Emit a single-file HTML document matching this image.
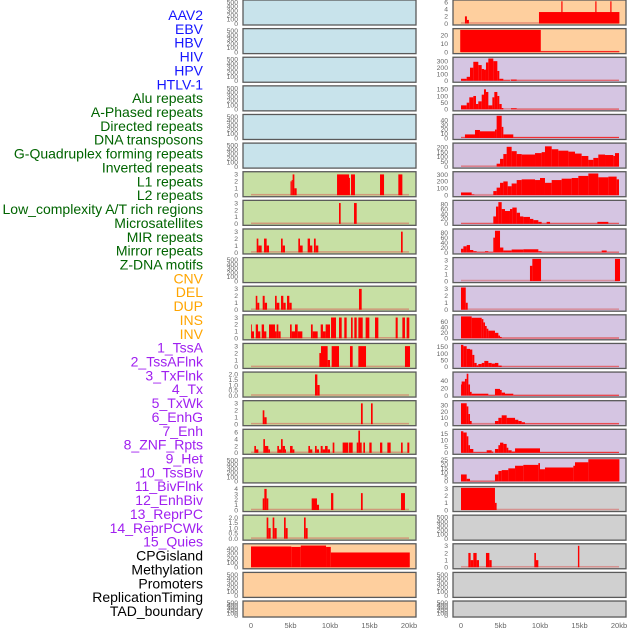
<!DOCTYPE html>
<html><head><meta charset="utf-8">
<style>
html,body{margin:0;padding:0;background:#fff;}
#chart{position:absolute;left:0;top:0;width:630px;height:630px;}
text{font-family:"Liberation Sans",sans-serif;}
</style></head>
<body>
<svg id="chart" width="630" height="630" xmlns="http://www.w3.org/2000/svg"></svg>
<script>
const labelNames = ["AAV2","EBV","HBV","HIV","HPV","HTLV-1","Alu repeats","A-Phased repeats","Directed repeats","DNA transposons","G-Quadruplex forming repeats","Inverted repeats","L1 repeats","L2 repeats","Low_complexity A/T rich regions","Microsatellites","MIR repeats","Mirror repeats","Z-DNA motifs","CNV","DEL","DUP","INS","INV","1_TssA","2_TssAFlnk","3_TxFlnk","4_Tx","5_TxWk","6_EnhG","7_Enh","8_ZNF_Rpts","9_Het","10_TssBiv","11_BivFlnk","12_EnhBiv","13_ReprPC","14_ReprPCWk","15_Quies","CPGisland","Methylation","Promoters","ReplicationTiming","TAD_boundary"];
const labelGroups = [6,13,5,15,5];
const xTicks = [0,5,10,15,20];
const xTickLabels = ["0","5kb","10kb","15kb","20kb"];

const mid6=[[5.0,5.15,2],[5.15,5.27,2.2],[5.27,5.49,3],[5.49,5.78,1],[10.89,12.41,3],[12.41,12.53,2.5],[12.66,13.16,3],[16.33,16.84,3],[18.65,19.16,3]];
const mid7=[[11.14,11.35,3],[13.04,13.38,3]];
const mid8=[[0.72,0.93,2],[0.93,1.35,1],[1.65,1.98,2],[1.98,2.28,1],[3.8,4.01,2],[4.01,4.3,1],[5.99,6.2,2],[6.2,6.54,1],[7.17,7.47,2],[7.47,7.76,1],[7.97,8.19,2],[8.19,8.52,1],[18.99,19.2,3]];
const mid10=[[0.6,0.8,2],[0.8,1.05,1],[1.48,1.73,2],[1.73,2.03,1],[3.04,3.25,2],[3.25,3.59,1],[3.8,4.09,2],[4.09,4.39,1],[4.56,4.85,2],[4.85,5.15,1],[13.67,14.01,3]];
const mid11=[[0,0.08,2],[0.08,0.38,1],[0.6,0.89,2],[0.89,1.18,1],[1.35,1.65,2],[1.65,1.94,1],[2.28,3.04,2],[3.04,3.25,1],[3.25,3.46,2],[3.46,3.75,1],[4.94,5.15,2],[5.15,5.57,1],[5.57,5.91,2],[5.91,6.5,1],[7.59,7.81,2],[7.81,8.44,1],[8.82,9.11,2],[9.11,9.45,1],[9.45,10.0,2],[10.13,10.76,3],[11.14,11.48,3],[11.81,12.11,3],[12.66,12.87,3],[13.08,13.38,3],[13.59,14.14,3],[14.51,14.98,3],[15.7,16.12,3],[18.31,18.57,3],[19.16,19.49,3],[19.7,20.04,3]];
const mid12=[[8.65,8.86,2],[8.86,9.7,3],[9.7,10.0,1],[10.21,11.14,3],[12.53,12.87,3],[13.59,14.56,3],[19.49,20.13,3]];
const mid13=[[8.1,8.4,2],[8.4,8.69,1]];
const mid14=[[1.48,1.69,2],[1.69,1.98,1],[13.92,14.14,3],[15.19,15.4,3]];
const mid15=[[0.42,0.63,2],[0.63,0.93,1],[1.56,1.77,4],[1.77,2.19,2],[2.19,2.4,1],[3.33,3.54,2],[3.54,3.8,1],[3.8,4.01,4],[4.01,4.3,2],[4.3,4.43,1],[4.94,5.27,2],[5.27,5.49,1],[7.26,7.47,2],[7.47,7.76,1],[8.1,8.31,2],[8.31,8.61,1],[8.82,9.07,2],[9.07,9.37,1],[9.37,9.7,2],[9.7,10.0,1],[10.34,10.55,3],[11.6,12.32,3],[12.41,12.87,3],[13.38,13.59,3],[13.59,13.8,6.5],[13.8,14.01,3],[14.22,14.43,3],[14.98,15.27,3],[16.33,16.62,3],[17.26,17.68,3],[18.99,19.2,3],[19.79,20.04,3]];
const mid17=[[1.48,1.69,2.2],[1.69,1.98,4],[1.98,2.19,2.2],[7.68,8.35,2.2],[8.35,8.61,1],[10.13,10.42,3.2],[13.92,14.14,3.2],[18.99,19.49,3.2]];
const mid18=[[1.98,2.19,2],[2.19,2.49,1],[2.74,2.95,2],[2.95,3.25,1],[4.18,4.39,2],[4.39,4.64,1],[6.71,6.92,2],[6.92,7.17,1]];
const mid19=[[0,5.1,450],[5.1,6.3,440],[6.3,9.5,470],[9.5,10.1,440],[10.1,20.1,320]];

const r0=[[0.5,0.75,2],[0.75,1.0,1],[9.87,20.05,3.2],[12.7,12.85,6.2],[17.0,17.15,6.2],[18.9,19.05,6.2]];
const r1=[[-0.1,10.1,26],[10.1,20.05,1]];
const r2=[[0,0.72,30],[0.72,1.14,60],[1.14,1.56,200],[1.56,2.19,290],[2.19,2.62,240],[2.62,2.91,180],[2.91,3.16,170],[3.16,3.46,280],[3.46,4.09,340],[4.09,4.6,300],[4.6,4.85,150],[4.85,5.36,30],[5.36,6.2,8],[6.33,7.05,18],[7.05,20,4]];
const r3=[[0,0.72,30],[0.72,1.05,50],[1.05,1.56,90],[1.56,1.9,100],[1.9,2.19,40],[2.19,2.62,60],[2.62,2.91,110],[2.91,3.16,150],[3.16,3.46,130],[3.46,3.97,30],[3.97,4.22,90],[4.22,4.6,130],[4.6,4.85,100],[4.85,5.15,40],[5.15,5.36,10],[6.33,7.05,8],[7.05,20,3]];
const r4=[[0,0.5,1],[0.5,1.77,8],[1.77,2.4,18],[2.4,4.3,15],[4.3,4.51,19],[4.51,5.15,65],[5.15,5.36,25],[5.36,6.62,8],[6.62,20,1.5]];
const r5=[[0,4.51,1.5],[4.51,4.94,30],[4.94,5.36,80],[5.36,5.78,130],[5.78,6.41,205],[6.41,7.05,160],[7.05,7.68,130],[7.68,9.37,125],[9.37,10.21,140],[10.21,10.63,150],[10.63,11.48,210],[11.48,12.32,180],[12.32,13.59,165],[13.59,14.43,155],[14.43,15.27,135],[15.27,16.12,110],[16.12,16.75,70],[16.75,17.38,90],[17.38,18.23,125],[18.23,19.28,120],[19.28,19.49,110],[19.49,20,140]];
const r6=[[0,1.35,40],[1.35,1.69,10],[1.69,4.09,3],[4.09,4.51,60],[4.51,4.94,110],[4.94,5.36,180],[5.36,5.91,200],[5.91,6.41,130],[6.41,7.05,170],[7.05,7.68,220],[7.68,9.37,230],[9.37,10.0,220],[10.0,10.63,250],[10.63,11.48,180],[11.48,12.74,220],[12.74,14.01,240],[14.01,14.85,250],[14.85,16.12,280],[16.12,17.38,315],[17.38,18.65,260],[18.65,19.7,270],[19.7,20,230]];
const r7=[[0,4.09,1.5],[4.09,4.43,30],[4.43,4.73,70],[4.73,5.15,88],[5.15,5.57,60],[5.57,6.2,52],[6.2,6.5,60],[6.5,7.05,66],[7.05,7.47,45],[7.47,7.89,30],[7.89,8.73,28],[8.73,9.16,20],[9.16,9.79,15],[9.79,10.21,8],[10.21,10.84,1.5],[10.84,11.27,8],[11.27,17.26,1.5],[17.26,18.65,8],[18.65,20,1.5]];
const r8=[[0,0.3,15],[0.3,0.72,25],[0.72,1.14,30],[1.14,1.56,10],[1.56,1.98,5],[1.98,3.04,2],[3.04,3.46,5],[3.46,4.09,2],[4.09,4.3,60],[4.3,4.94,88],[4.94,5.36,20],[5.36,6.41,8],[6.41,7.89,12],[7.89,9.79,13],[9.79,10.21,5],[10.21,17.81,1.5],[17.81,18.44,8],[18.44,20,1.5]];
const r9=[[8.73,9.03,2.2],[9.03,10.13,3.2],[19.49,20.13,3.2]];
const r10=[[0,0.6,3.2],[0.6,0.85,1]];
const r11=[[0,1.35,80],[1.35,2.62,75],[2.62,2.83,70],[2.83,3.04,58],[3.04,3.25,45],[3.25,3.46,35],[3.46,4.3,28],[4.3,4.73,20],[4.73,4.94,10],[4.94,5.15,5],[5.15,20,1.5]];
const r12=[[0,0.3,165],[0.3,0.72,155],[0.72,1.14,135],[1.14,1.43,130],[1.43,1.69,90],[1.69,1.98,30],[1.98,2.19,12],[2.19,2.62,22],[2.62,2.95,30],[2.95,3.46,45],[3.46,3.88,30],[3.88,4.3,25],[4.3,4.73,30],[4.73,5.15,10],[5.15,20,2]];
const r13=[[0,0.08,30],[0.08,0.5,38],[0.5,0.72,45],[0.72,0.93,59],[0.93,1.14,30],[1.14,1.35,10],[1.35,3.46,5],[3.46,4.3,1.5],[4.3,4.94,18],[4.94,5.15,15],[5.15,5.57,8],[5.57,6.62,5],[6.62,20,1.5]];
const r14=[[0,0.72,33],[0.72,0.93,28],[0.93,1.14,16],[1.14,1.35,5],[1.35,4.3,0.5],[4.3,4.73,5],[4.73,5.15,10],[5.15,5.78,14],[5.78,6.84,10],[6.84,7.26,7],[7.26,7.68,5],[7.68,8.1,3],[8.1,20,1]];
const r15=[[0,0.3,17],[0.3,0.72,16],[0.72,0.93,13],[0.93,1.14,6],[1.14,1.56,3],[1.56,3.25,0.5],[3.25,3.88,2],[3.88,4.09,1],[4.3,4.73,3],[4.73,4.94,6],[4.94,5.36,8],[5.36,5.78,7],[5.78,5.99,4],[5.99,6.41,2],[6.41,6.84,1],[6.84,10.0,3.5],[10.0,20,0.5]];
const r16=[[0,0.72,8],[0.72,1.14,3],[1.14,4.3,0.5],[4.3,4.73,8],[4.73,5.15,12],[5.15,5.99,13],[5.99,6.84,15],[6.84,7.89,18],[7.89,9.79,19],[9.79,10.0,21],[10.0,10.63,14],[10.63,14.22,16],[14.22,14.43,18],[14.43,16.12,22],[16.12,20.05,25.5]];
const r17=[[0,4.3,3.1],[4.3,4.51,1]];
const r19=[[0.93,1.22,2],[1.22,1.56,1],[1.56,1.98,2],[1.98,2.28,1],[3.16,3.59,2],[3.59,3.88,1],[9.28,9.49,2],[9.49,9.79,1],[14.8,14.98,3]];

const T500=[0,100,200,300,400,500], T3=[0,1,2,3], T2=[0,0.5,1,1.5,2];
const midData=[null,null,null,null,null,null,mid6,mid7,mid8,null,mid10,mid11,mid12,mid13,mid14,mid15,null,mid17,mid18,mid19,null,null];
const midTicks=[T500,T500,T500,T500,T500,T500,T3,T3,T3,T500,T3,T3,T3,T2,T3,[0,2,4,6],T500,[0,1,2,3,4],T2,[0,100,200,300,400],T500,T500];
const midMax=[520,520,520,520,520,520,3.2,3.2,3.2,520,3.2,3.2,3.2,2.1,3.2,6.5,520,4.2,2.1,480,520,520];
const rightData=[r0,r1,r2,r3,r4,r5,r6,r7,r8,r9,r10,r11,r12,r13,r14,r15,r16,r17,null,r19,null,null];
const rightTicks=[[0,2,4,6],[0,10,20],[0,100,200,300],[0,50,100,150],[0,10,20,30,40],[0,50,100,150,200],[0,100,200,300],[0,20,40,60,80],[0,20,40,60,80],T3,T3,[0,20,40,60],[0,50,100,150],[0,20,40],[0,10,20,30],[0,5,10,15],[0,5,10,15,20,25],T3,T500,T3,T500,T500];
const rightMax=[6.2,26,340,166,50,230,322,90,90,3.2,3.2,81,166,60,35,17.5,25.5,3.1,520,3.1,520,520];

const NS="http://www.w3.org/2000/svg";
const svg=document.getElementById('chart');
function mk(tag,attrs,parent){const e=document.createElementNS(NS,tag);for(const k in attrs)e.setAttribute(k,attrs[k]);(parent||svg).appendChild(e);return e;}

const colors=['#1515ff','#006400','#ffa500','#a020f0','#000000'];
let idx=0;
labelGroups.forEach((n,g)=>{for(let i=0;i<n;i++){const t=mk('text',{x:203,y:20+idx*13.86,'text-anchor':'end','font-size':'14',fill:colors[g]});t.textContent=labelNames[idx];


idx++;}});

const midBg=i=>i<6?'#c8e3eb':(i<19?'#c7e0a4':'#fecf9e');
const rightBg=i=>i<2?'#fecf9e':(i<17?'#d5c5e2':'#d0d0d0');

function panel(col,row,bg,data,ticks,ymax){
  const L=col===0?243:453, x0=L+8, pxPerKb=7.9;
  const top=row*28.62, h=row===21?16:25;
  const base=top+h-1.5, ytop=top+1.3;
  const xs=k=>x0+k*pxPerKb;
  const ys=v=>base-(Math.min(v,ymax)/ymax)*(base-ytop);
  const g=mk('g',{});
  
  
  const r=mk('rect',{x:L,y:top,width:173,height:h,fill:bg,stroke:'#5a5a5a','stroke-width':1.3},g);
  
  
  ticks.forEach(v=>{const t=mk('text',{x:L-5,y:ys(v)+2.3,'text-anchor':'end','font-size':'6.8',fill:'#666'},g);
    t.textContent=(ticks===T2)?v.toFixed(1):String(v);
    
    });
  if(data){
    const bl=mk('rect',{x:xs(0),y:base-1.3,width:xs(20)-xs(0),height:1.5,fill:'#d9534f',opacity:0.5},g);
    
    
    data.forEach(d=>{const y=ys(d[2]);const b=mk('rect',{x:xs(d[0]),y:y,width:Math.max(0.8,xs(d[1])-xs(d[0])),height:base-y,fill:'#ff0000'},g);
      
      });
  }
}
for(let i=0;i<22;i++){panel(0,i,midBg(i),midData[i],midTicks[i],midMax[i]);panel(1,i,rightBg(i),rightData[i],rightTicks[i],rightMax[i]);}

[0,1].forEach(c=>{xTicks.forEach((k,j)=>{const t=mk('text',{x:(c===0?251:461)+k*7.9,y:628,'text-anchor':'middle','font-size':'7.5',fill:'#666'});t.textContent=xTickLabels[j];

});});
</script>
</body></html>
